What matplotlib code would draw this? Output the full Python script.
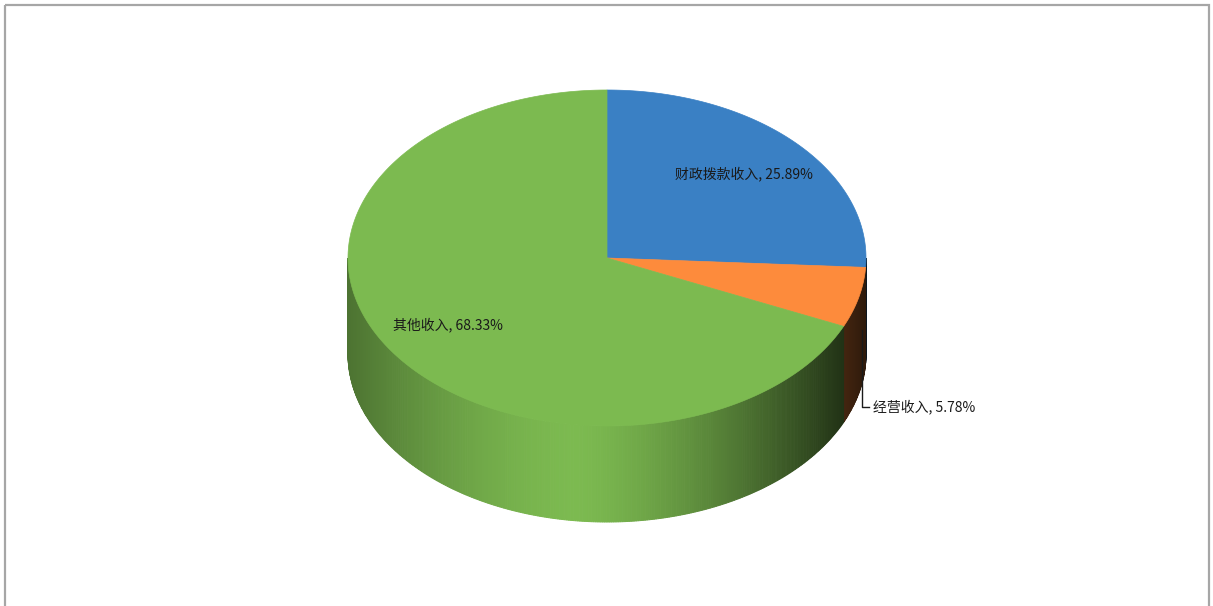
import numpy as np
import matplotlib
matplotlib.use("Agg")
import matplotlib.pyplot as plt
from matplotlib.patches import Polygon, Rectangle

plt.rcParams['font.family'] = ['Noto Sans CJK SC', 'DejaVu Sans']

labels = ['财政拨款收入', '经营收入', '其他收入']
values = [25.89, 5.78, 68.33]
colors = ['#3a80c4', '#fd8b3c', '#7cba50']

# pie geometry in pixels
cx, cy = 607, 258
a, b = 259, 168
depth = 96


def edge(theta_deg, dy=0):
    t = np.radians(theta_deg)
    return cx + a * np.sin(t), cy - b * np.cos(t) + dy


def shade(x):
    # horizontal light gradient on the side wall
    u = (x - cx) / a
    u0 = -0.12
    if u < u0:
        return 1 - 0.38 * ((u0 - u) / (1 + u0)) ** 1.6
    return 1 - 0.82 * ((u - u0) / (1 - u0)) ** 1.4


fig = plt.figure(figsize=(12.13, 6.06), dpi=100)
ax = fig.add_axes([0, 0, 1, 1])
ax.set_xlim(0, 1213)
ax.set_ylim(606, 0)
ax.axis('off')

# outer frame
ax.add_patch(Rectangle((5, 5), 1204, 640, fill=False, ec='#a6a6a6', lw=1.6))

bounds = np.concatenate([[0], np.cumsum(values)]) / 100 * 360

# side wall
step = 0.5
for i in range(len(values)):
    lo = max(bounds[i], 90)
    hi = min(bounds[i + 1], 270)
    if hi <= lo:
        continue
    base = np.array(matplotlib.colors.to_rgb(colors[i]))
    angs = np.arange(lo, hi, step)
    angs = np.append(angs, hi)
    for t1, t2 in zip(angs[:-1], angs[1:]):
        x1, y1 = edge(t1)
        x2, y2 = edge(t2)
        f = shade((x1 + x2) / 2)
        c = np.clip(base * f, 0, 1)
        ax.add_patch(Polygon([(x1, y1), (x2, y2), (x2, y2 + depth), (x1, y1 + depth)],
                             closed=True, fc=c, ec=c, lw=0.7))

# top face
for i in range(len(values)):
    angs = np.linspace(bounds[i], bounds[i + 1], 300)
    xs, ys = edge(angs)
    pts = [(cx, cy)] + list(zip(xs, ys))
    ax.add_patch(Polygon(pts, closed=True, fc=colors[i], ec=colors[i], lw=0.5))

# labels
for i in [0, 2]:
    mid = (bounds[i] + bounds[i + 1]) / 2
    t = np.radians(mid)
    r = 0.73
    ax.text(cx + a * r * np.sin(t), cy - b * r * np.cos(t),
            f'{labels[i]}, {values[i]:.2f}%', ha='center', va='center',
            fontsize=10, color='#1a1a1a')

# leader line for the small slice
ax.plot([862, 862, 869], [330, 407, 407], color='#1a1a1a', lw=1)
ax.text(873, 407, f'{labels[1]}, {values[1]:.2f}%', ha='left', va='center',
        fontsize=10, color='#1a1a1a')

fig.savefig('out.png', dpi=100)
